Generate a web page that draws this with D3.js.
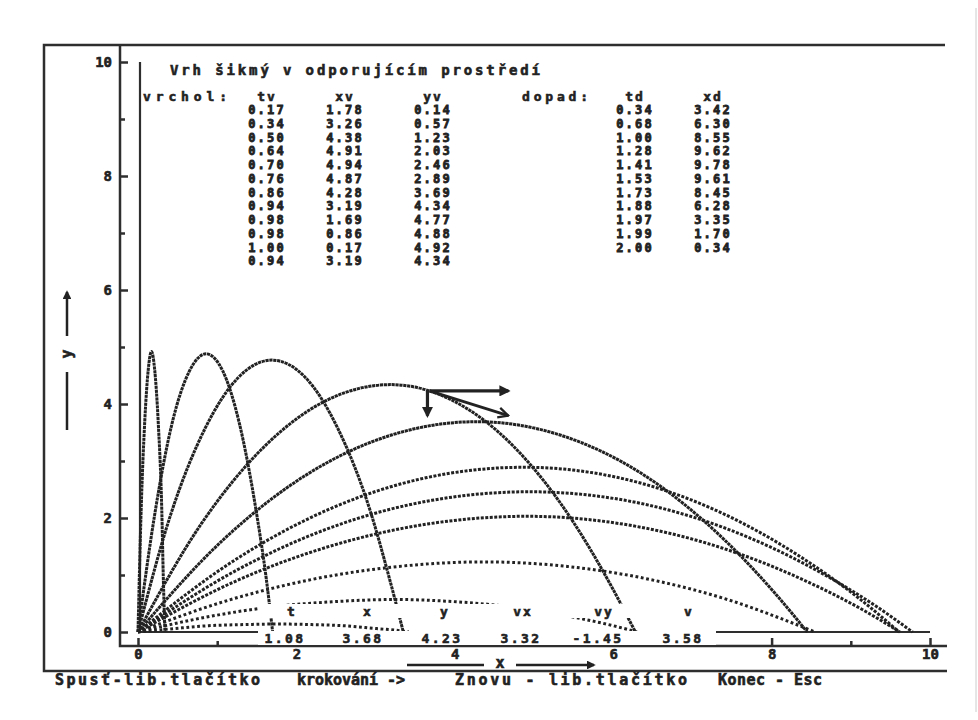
<!DOCTYPE html>
<html>
<head>
<meta charset="utf-8">
<script src="https://cdn.jsdelivr.net/npm/d3@7"></script>
<style>
body { margin: 0; background: #fff; }
svg text { font-family: "DejaVu Sans Mono", monospace; font-weight: bold; fill: #222; stroke: #222; stroke-width: 0.6px; }
</style>
</head>
<body>
<svg id="vrh" width="978" height="720"></svg>
<script>
// tabulka "vrchol" (tv, xv, yv) a "dopad" (td, xd)
var tv = [0.17, 0.34, 0.50, 0.64, 0.70, 0.76, 0.86, 0.94, 0.98, 0.98, 1.00, 0.94];
var xv = [1.78, 3.26, 4.38, 4.91, 4.94, 4.87, 4.28, 3.19, 1.69, 0.86, 0.17, 3.19];
var yv = [0.14, 0.57, 1.23, 2.03, 2.46, 2.89, 3.69, 4.34, 4.77, 4.88, 4.92, 4.34];
var td = [0.34, 0.68, 1.00, 1.28, 1.41, 1.53, 1.73, 1.88, 1.97, 1.99, 2.00];
var xd = [3.42, 6.30, 8.55, 9.62, 9.78, 9.61, 8.45, 6.28, 3.35, 1.70, 0.34];

// okamzity stav: t, x, y, vx, vy, v
var stavNazvy = ["t", "x", "y", "vx", "vy", "v"];
var stav = [1.08, 3.68, 4.23, 3.32, -1.45, 3.58];

var xMajor = [0, 2, 4, 6, 8, 10], xMinor = [1, 3, 5, 7, 9];
var yMajor = [0, 2, 4, 6, 8, 10], yMinor = [1, 3, 5, 7, 9];

// body drah [x, y]
var draha1 = [[0,0],[0.45,0.06],[0.89,0.11],[1.34,0.13],[1.78,0.14],[2.19,0.13],[2.60,0.11],[3.01,0.06],[3.26,0.03],[3.42,0]];
var draha2 = [[0,0],[0.82,0.25],[1.63,0.43],[2.45,0.53],[3.26,0.57],[4.02,0.53],[4.78,0.43],[5.54,0.25],[6.00,0.11],[6.30,0]];
var draha3 = [[0,0],[1.10,0.54],[2.19,0.92],[3.29,1.15],[4.38,1.23],[5.42,1.15],[6.47,0.92],[7.51,0.54],[8.13,0.23],[8.55,0]];
var draha4 = [[0,0],[1.23,0.89],[2.46,1.52],[3.68,1.90],[4.91,2.03],[6.09,1.90],[7.27,1.52],[8.44,0.89],[9.15,0.39],[9.62,0]];
var draha5 = [[0,0],[1.24,1.08],[2.47,1.85],[3.71,2.31],[4.94,2.46],[6.15,2.31],[7.36,1.85],[8.57,1.08],[9.30,0.47],[9.78,0]];
var draha6 = [[0,0],[1.22,1.26],[2.44,2.17],[3.65,2.71],[4.87,2.89],[6.06,2.71],[7.24,2.17],[8.43,1.26],[9.14,0.55],[9.61,0]];
var draha7 = [[0,0],[1.07,1.61],[2.14,2.77],[3.21,3.46],[4.28,3.69],[5.32,3.46],[6.37,2.77],[7.41,1.61],[8.03,0.70],[8.45,0]];
var draha8 = [[0,0],[0.80,1.90],[1.60,3.26],[2.39,4.07],[3.19,4.34],[3.96,4.07],[4.74,3.26],[5.51,1.90],[5.97,0.82],[6.28,0]];
var draha9 = [[0,0],[0.42,2.09],[0.85,3.58],[1.27,4.47],[1.69,4.77],[2.11,4.47],[2.52,3.58],[2.94,2.09],[3.18,0.91],[3.35,0]];
var draha10 = [[0,0],[0.22,2.14],[0.43,3.66],[0.65,4.58],[0.86,4.88],[1.07,4.58],[1.28,3.66],[1.49,2.14],[1.62,0.93],[1.70,0]];
var draha11 = [[0,0],[0.04,2.15],[0.085,3.69],[0.13,4.61],[0.17,4.92],[0.21,4.61],[0.255,3.69],[0.30,2.15],[0.32,0.93],[0.34,0]];
var drahy = [draha1, draha2, draha3, draha4, draha5, draha6, draha7, draha8, draha9, draha10, draha11];

var svg = d3.select("svg#vrh");
var ink = "#222";

var x = d3.scaleLinear().domain([0, 10]).range([138, 930]),
    y = d3.scaleLinear().domain([0, 10]).range([632, 62]);

var defs = svg.append("defs");
defs.append("marker").attr("id", "plna")
    .attr("viewBox", "0 0 10 10").attr("refX", 8).attr("refY", 5)
    .attr("markerWidth", 3.5).attr("markerHeight", 3.5).attr("orient", "auto")
  .append("path").attr("d", "M0,0L10,5L0,10z").attr("fill", ink);
defs.append("marker").attr("id", "prazdna")
    .attr("viewBox", "0 0 10 10").attr("refX", 9).attr("refY", 5)
    .attr("markerWidth", 4.5).attr("markerHeight", 4.5).attr("orient", "auto")
  .append("path").attr("d", "M1,1L9,5L1,9").attr("fill", "none").attr("stroke", ink).attr("stroke-width", 1.8);

// ramecek
var ram = svg.append("g").attr("stroke", "#2e2e2e").attr("stroke-width", 2.5).attr("fill", "none");
ram.append("path").attr("d", "M945,45H44V671H947");
ram.append("path").attr("d", "M120,45V646H947");
svg.append("line").attr("x1", 976).attr("x2", 976).attr("y1", 8).attr("y2", 712)
    .attr("stroke", "#ccc").attr("stroke-width", 1);

// osy
var osaY = svg.append("g").attr("transform", "translate(120,0)");
osaY.call(d3.axisLeft(y).tickValues(yMajor).tickSizeInner(-8).tickSizeOuter(0).tickPadding(8).tickFormat(d3.format("d")));
osaY.append("g").call(d3.axisLeft(y).tickValues(yMinor).tickSizeInner(-5).tickSizeOuter(0).tickFormat(""));
var osaX = svg.append("g").attr("transform", "translate(0,646)");
osaX.call(d3.axisBottom(x).tickValues(xMajor).tickSizeInner(-8).tickSizeOuter(0).tickPadding(3).tickFormat(d3.format("d")));
osaX.append("g").call(d3.axisBottom(x).tickValues(xMinor).tickSizeInner(-5).tickSizeOuter(0).tickFormat(""));
svg.selectAll(".domain").remove();
svg.selectAll(".tick line").attr("stroke", "#2e2e2e").attr("stroke-width", 2.5);
svg.selectAll(".tick text").style("font-size", "14px");

// svisla cara x = 0 a zeme y = 0
svg.append("line").attr("x1", x(0) + 2).attr("x2", x(0) + 2).attr("y1", y(10)).attr("y2", y(0))
    .attr("stroke", "#2e2e2e").attr("stroke-width", 2.2);
svg.append("line").attr("x1", x(0)).attr("x2", x(10)).attr("y1", y(0)).attr("y2", y(0))
    .attr("stroke", "#2e2e2e").attr("stroke-width", 2);

// drahy
var line = d3.line().x(function(d) { return x(d[0]); }).y(function(d) { return y(d[1]); })
    .curve(d3.curveMonotoneX);
svg.append("g").selectAll("path").data(drahy).enter().append("path")
    .attr("d", line)
    .attr("fill", "none")
    .attr("stroke", ink)
    .attr("stroke-width", 3)
    .attr("stroke-dasharray", function(d, i) { return i < 3 ? "2.8,2.6" : (i < 6 ? "3,1.5" : "3.2,0.7"); });

// vektory rychlosti v bode
var k = 0.3,
    px = x(stav[1]), py = y(stav[2]),
    ex = x(stav[1] + k * stav[3]), ey = y(stav[2] + k * stav[4]);
var vek = svg.append("g").attr("stroke", ink).attr("stroke-width", 3.2).attr("fill", "none");
vek.append("line").attr("x1", px).attr("y1", py).attr("x2", ex).attr("y2", py).attr("marker-end", "url(#plna)");
vek.append("line").attr("x1", px - 2).attr("y1", py).attr("x2", px - 2).attr("y2", ey).attr("marker-end", "url(#plna)");
vek.append("line").attr("x1", px).attr("y1", py).attr("x2", ex).attr("y2", ey).attr("stroke-width", 2.8).attr("marker-end", "url(#prazdna)");

// popisky os
var popY = svg.append("g").attr("stroke", ink).attr("stroke-width", 2.5);
popY.append("line").attr("x1", 67).attr("x2", 67).attr("y1", 336).attr("y2", 292).attr("marker-end", "url(#plna)");
popY.append("line").attr("x1", 67).attr("x2", 67).attr("y1", 372).attr("y2", 430);
svg.append("text").attr("transform", "translate(67,354) rotate(-90)")
    .attr("text-anchor", "middle").attr("dy", "0.35em").style("font-size", "15px").text("y");
var popX = svg.append("g").attr("stroke", ink).attr("stroke-width", 2.5);
popX.append("line").attr("x1", 407).attr("x2", 484).attr("y1", 665).attr("y2", 665);
popX.append("line").attr("x1", 516).attr("x2", 594).attr("y1", 665).attr("y2", 665).attr("marker-end", "url(#plna)");
svg.append("text").attr("x", 500).attr("y", 663).attr("dy", "0.35em").attr("text-anchor", "middle")
    .style("font-size", "15px").text("x");

// nadpis a tabulky
var txt = svg.append("g").style("font-size", "12px");
txt.append("text").attr("x", 170).attr("y", 70).attr("dy", "0.35em").style("font-size", "14px")
    .attr("textLength", 370).attr("lengthAdjust", "spacing").text("Vrh šikmý v odporujícím prostředí");
txt.append("text").attr("x", 143).attr("y", 96).attr("dy", "0.35em").style("font-size", "13px")
    .attr("textLength", 84).attr("lengthAdjust", "spacing").text("vrchol:");
txt.append("text").attr("x", 522).attr("y", 96).attr("dy", "0.35em").style("font-size", "13px")
    .attr("textLength", 66).attr("lengthAdjust", "spacing").text("dopad:");

var sloupce = [["tv", tv, 267], ["xv", xv, 345], ["yv", yv, 433], ["td", td, 635], ["xd", xd, 713]];
function f2(d) { return d.toFixed(2); }
sloupce.forEach(function(s) {
  txt.append("text").attr("x", s[2]).attr("y", 96).attr("dy", "0.35em").style("font-size", "13px")
      .attr("text-anchor", "middle").style("letter-spacing", "2px").text(s[0]);
  txt.selectAll(null).data(s[1]).enter().append("text")
      .attr("x", s[2]).attr("y", function(d, i) { return 110 + i * 13.75; }).attr("dy", "0.35em")
      .attr("text-anchor", "middle").style("letter-spacing", "2.2px").style("stroke-width", "0.8px")
      .text(f2);
});

// radky stavu (text v DOSu maze pozadi)
svg.append("rect").attr("x", 258).attr("y", 604).attr("width", 454).attr("height", 14).attr("fill", "#fff");
svg.append("rect").attr("x", 258).attr("y", 631).attr("width", 458).attr("height", 14).attr("fill", "#fff");
var stX = [292, 368, 445, 523, 604, 689], hodX = [285, 363, 442, 521, 598, 683];
var stav2 = svg.append("g").style("font-size", "13px");
stav2.selectAll(null).data(stavNazvy).enter().append("text")
    .attr("x", function(d, i) { return stX[i]; }).attr("y", 611).attr("dy", "0.35em")
    .attr("text-anchor", "middle").style("letter-spacing", "2px").text(function(d) { return d; });
stav2.selectAll(null).data(stav).enter().append("text")
    .attr("x", function(d, i) { return hodX[i]; }).attr("y", 638).attr("dy", "0.35em")
    .attr("text-anchor", "middle").style("letter-spacing", "2.4px").text(f2);

// stavovy radek
var pata = [["Spusť-lib.tlačítko", 55, 205], ["krokování ->", 297, 108], ["Znovu - lib.tlačítko", 455, 232], ["Konec - Esc", 718, 104]];
svg.append("g").style("font-size", "15px").selectAll("text").data(pata).enter().append("text")
    .attr("x", function(d) { return d[1]; }).attr("y", 680).attr("dy", "0.35em")
    .attr("textLength", function(d) { return d[2]; }).attr("lengthAdjust", "spacing")
    .text(function(d) { return d[0]; });
</script>
</body>
</html>
